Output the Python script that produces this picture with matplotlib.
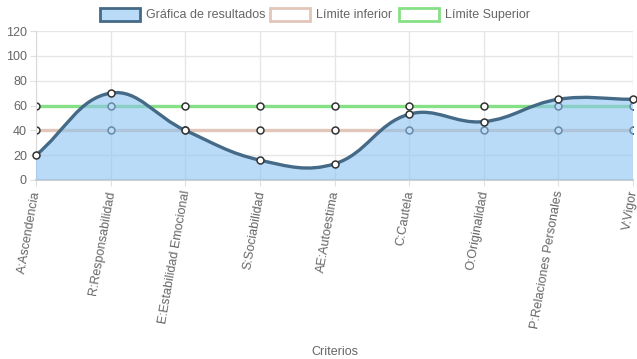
import numpy as np
import matplotlib
matplotlib.use('Agg')
import matplotlib.pyplot as plt
from matplotlib.path import Path
from matplotlib.patches import PathPatch, Rectangle

plt.rcParams['font.family'] = ['Liberation Sans', 'DejaVu Sans']

# Data
criterios = ['A:Ascendencia', 'R:Responsabilidad', 'E:Estabilidad Emocional',
             'S:Sociabilidad', 'AE:Autoestima', 'C:Cautela', 'O:Originalidad',
             'P:Relaciones Personales', 'V:Vigor']
resultados = [20, 70, 40, 16, 13, 53, 47, 65, 65]
limite_inferior = [40, 40, 40, 40, 40, 40, 40, 40, 40]
limite_superior = [60, 60, 60, 60, 60, 60, 60, 60, 60]

W, H = 637, 359
x0, x1, ytop, ybot = 36, 633, 31, 180
ymax = 120

fig = plt.figure(figsize=(W / 100, H / 100), dpi=100)
ax = fig.add_axes([x0 / W, 1 - ybot / H, (x1 - x0) / W, (ybot - ytop) / H])
ax.set_xlim(0, len(criterios) - 1)
ax.set_ylim(0, ymax)

# scale (pixels per data unit), used for Chart.js style spline
sx = (x1 - x0) / (len(criterios) - 1)
sy = (ybot - ytop) / ymax


def spline_path(vals, tension=0.4):
    pts = np.array([[i * sx, v * sy] for i, v in enumerate(vals)], dtype=float)
    n = len(pts)
    cp_prev, cp_next = [], []
    for i in range(n):
        cur = pts[i]
        prev = pts[i - 1] if i > 0 else cur
        nxt = pts[i + 1] if i < n - 1 else cur
        d01 = np.hypot(*(cur - prev))
        d12 = np.hypot(*(nxt - cur))
        tot = d01 + d12
        s01 = d01 / tot if tot else 0
        s12 = d12 / tot if tot else 0
        cp_prev.append(cur - tension * s01 * (nxt - prev))
        cp_next.append(cur + tension * s12 * (nxt - prev))
    verts = [pts[0]]
    codes = [Path.MOVETO]
    for i in range(n - 1):
        verts += [cp_next[i], cp_prev[i + 1], pts[i + 1]]
        codes += [Path.CURVE4] * 3
    verts = np.array(verts)
    verts[:, 0] /= sx
    verts[:, 1] /= sy
    verts[:, 1] = np.clip(verts[:, 1], 0, ymax)
    return verts, codes


xs = np.arange(len(criterios))

# grid
ax.set_yticks(range(0, 121, 20))
ax.set_xticks(xs)
ax.grid(True, color='#e6e6e6', lw=1)
ax.set_axisbelow(True)
for s in ['top', 'right']:
    ax.spines[s].set_visible(False)
ax.spines['left'].set_color('#d9d9d9')
ax.spines['bottom'].set_color('#d0d0d0')
ax.spines['bottom'].set_linewidth(1.5)
ax.tick_params(axis='both', colors='#e0e0e0', labelcolor='#666666', labelsize=9, length=4.5)
ax.tick_params(axis='y', pad=2)
ax.tick_params(axis='x', pad=1)
ax.set_xticklabels(criterios, rotation=80, ha='right', va='center', rotation_mode='anchor')
for lbl in ax.get_xticklabels():
    lbl.set_transform(lbl.get_transform() + matplotlib.transforms.ScaledTranslation(1 / 100, -3 / 100, fig.dpi_scale_trans))
ax.set_xlabel('Criterios', color='#666666', fontsize=9)
ax.xaxis.set_label_coords(0.5, -(346 - ybot) / (ybot - ytop))

# limit lines
mk = dict(marker='o', ms=5, mfc='white', mec='#333333', mew=1.1)
ax.plot(xs, limite_inferior, color='#e2c6b9', lw=2.4, zorder=2, **mk)
ax.plot(xs, limite_superior, color='#86e086', lw=2.4, zorder=2, **mk)

# resultados fill + curve
verts, codes = spline_path(resultados)
fill_verts = np.vstack([verts, [[xs[-1], 0], [0, 0], verts[0]]])
fill_codes = codes + [Path.LINETO, Path.LINETO, Path.CLOSEPOLY]
ax.add_patch(PathPatch(Path(fill_verts, fill_codes), facecolor='#8cc4f2', alpha=0.6,
                       edgecolor='none', zorder=3))
ax.add_patch(PathPatch(Path(verts, codes), facecolor='none', edgecolor='#456a88',
                       lw=2.4, zorder=4, capstyle='round'))
ax.plot(xs, resultados, ls='none', zorder=5, clip_on=False, **mk)

# legend (drawn in pixel positions like the original)
def fx(px):
    return px / W


def fy(py):
    return 1 - py / H


legend_items = [('Gráfica de resultados', '#b9dbf7', '#456a88', 100),
                ('Límite inferior', 'white', '#e2c6b9', 270),
                ('Límite Superior', 'white', '#86e086', 399)]
for label, fc, ec, bx in legend_items:
    fig.add_artist(Rectangle((fx(bx), fy(21)), fx(40), 13 / H, facecolor=fc,
                             edgecolor=ec, lw=2, transform=fig.transFigure))
    fig.text(fx(bx + 46), fy(15), label, color='#666666', fontsize=9, va='center', ha='left')

fig.savefig('out.png', dpi=100)
